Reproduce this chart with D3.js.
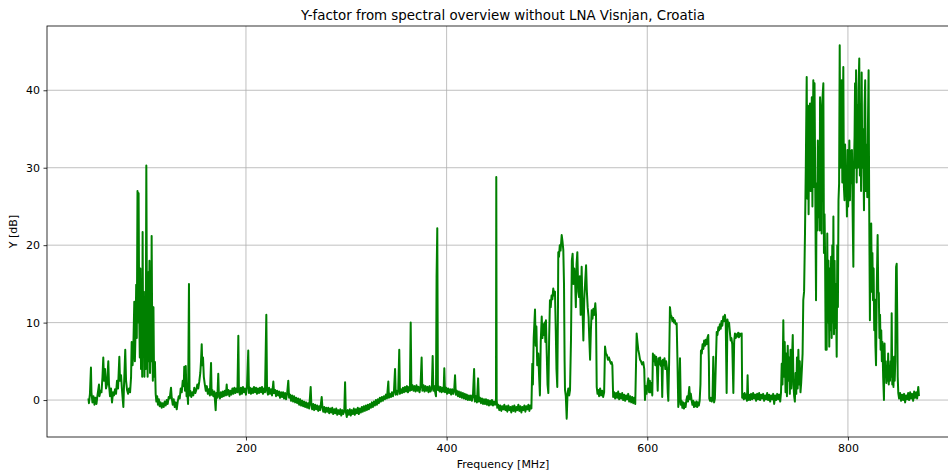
<!DOCTYPE html>
<html>
<head>
<meta charset="utf-8">
<script src="https://cdn.jsdelivr.net/npm/d3@7"></script>
<style>
  html, body { margin: 0; padding: 0; background: #fff; }
  svg { display: block; font-family: "DejaVu Sans", sans-serif; }
</style>
</head>
<body>
<div id="chart"></div>
<script>
// Y-factor readings [MHz, dB], split by band
const band043to170 = [
  [43,0.2],[43.5,-0.4],[44.5,0.8],[45.5,4.2],[46,1.0],[47,-0.3],[48,0.5],[49,-0.6],[50,0.3],[51,-0.5],
  [52,0.6],[53.5,2.0],[54,0.5],[55,1.2],[56,1.0],[57,3.0],[57.8,5.5],[58.5,2.5],[59.5,4.0],[60.5,1.5],
  [61.5,2.0],[62.8,5.0],[63.5,2.0],[64.5,0.5],[65.5,1.5],[66.5,-0.3],[67.5,1.0],[68.5,0.6],[69.5,1.4],[70.5,0.8],
  [71.5,2.5],[72.5,1.5],[73.8,5.6],[74.5,2.5],[75.5,3.2],[76.5,1.2],[77.8,-0.9],[78.5,2.0],[79.7,6.5],[80.5,2.5],
  [81.5,1.3],[82.5,0.8],[83.5,1.5],[84.5,1.0],[85.5,3.0],[86.1,7.5],[87,4.5],[87.8,7.0],[88.7,12.7],[89.3,5.0],
  [90,9.0],[90.6,14.9],[91.2,8.0],[91.9,27.0],[92.5,10.0],[93,26.7],[93.6,11.0],[94.2,5.5],[94.8,17.0],[95.4,4.0],
  [96,12.0],[96.6,3.0],[97,21.7],[97.6,6.0],[98.2,14.0],[98.8,3.0],[99.4,12.0],[100,4.0],[100.7,30.3],[101.4,9.0],
  [102,3.0],[102.6,16.5],[103.2,5.0],[103.8,18.0],[104.4,3.5],[105,12.0],[105.5,5.0],[106,21.2],[106.6,8.0],[107.2,2.5],
  [107.8,12.0],[108.4,3.0],[109.3,4.9],[110,0.8],[110.7,-0.2],[111.5,0.5],[112.3,-0.6],[113.2,0.1],[114,-0.8],[115,-0.3],
  [116,-1.0],[117,-0.4],[118,-0.9],[119,-0.2],[120,-0.7],[121,0.0],[122,-0.5],[123,0.4],[124,0.2],[125.3,1.6],
  [126,0.3],[127,-0.6],[128,0.1],[129,-0.9],[130,-0.3],[131,-1.2],[132,-0.2],[133,0.5],[134,0.2],[135,1.5],
  [136,1.0],[137,2.5],[138,1.8],[138.5,4.3],[139.2,1.2],[140,4.4],[140.8,0.5],[141.5,1.0],[142.3,-0.5],[143.2,15.0],
  [143.8,0.6],[144.5,1.2],[145.5,0.4],[146.5,1.0],[147.5,0.6],[148.5,1.6],[149.5,0.9],[150.5,1.3],[151.5,2.0],[152.5,1.5],
  [153.5,2.4],[154.5,3.5],[155.2,5.0],[155.9,7.2],[156.5,4.5],[157.2,5.5],[158,3.0],[159,2.0],[160,1.2],[161,1.8],
  [162,0.8],[163,1.4],[164,0.6],[165.2,4.8],[165.8,0.7],[166.5,1.3],[167.5,0.5],[168.5,1.1],[169.8,-1.3],[170.5,0.9]
];

const band171to300 = [
  [171.5,0.3],[172.4,3.4],[173,0.8],[174,0.2],[175,1.0],[176,0.4],[177,1.1],[178,0.5],[179,1.2],[180,0.6],
  [180.8,2.0],[181.5,0.7],[182.5,1.3],[183.5,0.5],[184.5,1.2],[185.5,0.7],[186.5,1.5],[187.5,0.8],[188.5,1.6],[189.5,0.9],
  [190.5,1.5],[191.5,1.0],[192.4,8.3],[193,1.2],[194,0.7],[195,1.6],[196,0.8],[197,1.7],[198,1.0],[199,1.5],
  [200,0.7],[201,1.6],[202.3,6.4],[203,0.9],[204,1.6],[205,0.8],[206,1.5],[207,0.9],[208,1.7],[209,1.0],
  [210,1.6],[211,0.8],[212,1.5],[213,0.9],[214,1.6],[215,1.0],[216,1.7],[217,0.8],[218,1.5],[219,1.0],
  [220.3,11.0],[221,1.2],[222,0.7],[223,1.6],[224,0.8],[225,1.4],[226,0.6],[227.3,2.4],[228,0.9],[229,1.3],
  [230,0.5],[231,1.2],[232,0.6],[233,1.1],[234,0.3],[235,1.0],[236,0.4],[237,1.0],[238,0.2],[239,0.9],
  [240,0.1],[241,0.8],[242.2,2.5],[243,0.3],[244,0.7],[245,-0.1],[246,0.6],[247,-0.2],[248,0.5],[249,-0.3],
  [250,0.3],[251,-0.4],[252,0.2],[253,-0.6],[254,0.1],[255,-0.7],[256,-0.1],[257,-0.8],[258,-0.2],[259,-0.9],
  [260,-0.3],[261,-1.0],[262,-0.4],[263,-1.1],[264.5,1.7],[265.2,-0.6],[266,-1.2],[267,-0.5],[268,-1.3],[269,-0.6],
  [270,-1.2],[271,-0.7],[272,-1.4],[273,-0.8],[274,-1.3],[275.5,0.4],[276.2,-0.9],[277,-1.5],[278,-0.9],[279,-1.6],
  [280,-1.0],[281,-1.5],[282,-1.0],[283,-1.7],[284,-1.1],[285,-1.6],[286,-1.0],[287,-1.8],[288,-1.2],[289,-1.7],
  [290,-1.1],[291,-1.9],[292,-1.3],[293,-1.8],[294,-1.2],[295,-2.0],[296,-1.3],[297,-1.8],[298,-1.4],[298.8,2.3],
  [299.5,-1.5],[300.5,-2.2]
];

const band301to450 = [
  [301.5,-1.3],[302.5,-1.9],[303.5,-1.2],[304.5,-2.0],[305.5,-1.3],[306.5,-1.8],[307.5,-1.1],[308.5,-1.9],[309.5,-1.2],[310.5,-1.7],
  [311.5,-1.0],[312.5,-1.8],[313.5,-1.1],[314.5,-1.6],[315.5,-0.9],[316.5,-1.5],[317.5,-0.8],[318.5,-1.4],[319.5,-0.7],[320.5,-1.3],
  [321.5,-0.6],[322.5,-1.2],[323.5,-0.5],[324.5,-1.0],[325.5,-0.3],[326.5,-0.9],[327.5,-0.2],[328.5,-0.7],[329.5,0.0],[330.5,-0.6],
  [331.5,0.1],[332.5,-0.4],[333.5,0.3],[334.5,-0.2],[335.5,0.4],[336.5,-0.1],[337.5,0.5],[338.5,0.1],[339.5,0.7],[340.5,0.2],
  [341.9,2.4],[342.5,0.3],[343.5,0.8],[344.5,0.4],[345.5,1.0],[346.5,0.5],[347.5,1.1],[348.6,4.0],[349.3,0.7],[350.2,1.2],
  [351,0.7],[351.8,1.3],[352.8,6.5],[353.5,0.8],[354.5,1.4],[355.5,0.9],[356.5,1.6],[357.5,1.0],[358.5,1.7],[359.5,1.1],
  [360.5,1.8],[361.5,1.0],[362.5,1.7],[363.4,1.2],[364.2,10.0],[364.9,1.3],[366,1.9],[367,1.2],[368,1.8],[369,1.1],
  [370,1.9],[371,1.2],[372,1.7],[373,1.0],[374,1.8],[375.1,5.5],[375.8,1.2],[377,1.9],[378,1.1],[379,1.8],
  [380,1.2],[381,1.7],[382,1.0],[383,1.8],[384,1.1],[385.3,1.6],[386.1,5.7],[386.8,1.2],[387.8,1.8],[388.6,1.0],
  [389.4,0.5],[390,15.9],[390.7,22.2],[391.3,1.3],[392,1.8],[393,1.1],[394,1.7],[395,1.0],[396,1.6],[397,1.1],
  [397.7,4.1],[398.4,1.0],[399.5,1.6],[400.5,0.8],[401.5,1.5],[402.5,0.9],[403.5,1.4],[404.5,0.7],[405.5,1.4],[406.5,0.8],
  [407.5,1.2],[408.4,3.2],[409.2,0.7],[410.2,1.2],[411.2,0.5],[412.2,1.1],[413.2,0.4],[414.2,1.0],[415.2,0.3],[416.2,0.9],
  [417.2,0.2],[418.2,0.8],[419.2,0.1],[420.2,0.7],[421.2,0.0],[422.2,0.6],[423.2,0.0],[424.2,0.6],[425.2,-0.1],[426.2,0.4],
  [427.4,4.0],[428.2,-0.2],[429.2,0.5],[430.2,-0.3],[431.4,2.8],[432.2,-0.2],[433.2,0.3],[434.2,-0.4],[435.2,0.2],[436.2,-0.5],
  [437.2,0.1],[438.2,-0.5],[439.2,0.1],[440.2,-0.6],[441.2,0.0],[442.2,-0.7],[443.2,-0.1],[444.2,-0.6],[445.2,0.0],[446.2,-0.7],
  [447.2,-0.2],[448.2,-0.6],[449.2,0.0],[449.5,28.8],[449.9,0.0],[450.5,-1.0]
];

const band451to560 = [
  [451.5,-0.6],[452.5,-1.3],[453.5,-0.7],[454.5,-1.4],[455.5,-0.8],[456.5,-1.2],[457.5,-0.6],[458.5,-1.3],[459.5,-0.8],[460.5,-1.5],
  [461.5,-0.7],[462.5,-1.3],[463.5,-0.9],[464.5,-1.6],[465.5,-0.8],[466.5,-1.4],[467.5,-0.7],[468.5,-1.5],[469.5,-0.9],[470.5,-1.3],
  [471.5,-0.6],[472.5,-1.4],[473.5,-0.8],[474.5,-1.6],[475.5,-0.9],[476.5,-1.3],[477.5,-0.7],[478.5,-1.5],[479.5,-0.8],[480.5,-1.2],
  [481.5,-0.6],[482.5,-1.4],[483.5,-0.7],[484.5,-1.1],[485.4,4.7],[486,2.0],[486.8,8.0],[488.1,11.7],[488.8,7.0],[489.5,9.5],
  [490.3,4.5],[491.4,6.0],[492.2,3.0],[493,0.6],[493.8,7.5],[494.8,10.8],[495.5,8.0],[496.3,9.8],[497,8.4],[497.8,10.0],
  [498.4,7.5],[499,10.3],[499.8,6.0],[500.6,2.0],[501.4,0.9],[502.2,8.0],[503,12.9],[503.8,12.0],[504.6,13.5],[505.4,13.0],
  [506.3,14.4],[507.2,13.5],[508,14.0],[508.8,9.0],[509.5,4.0],[510.3,1.7],[511,12.0],[511.3,19.1],[512,18.5],[512.8,20.0],
  [513.6,19.3],[514.7,21.3],[515.5,20.5],[516.3,19.4],[517,15.0],[517.6,5.0],[518,1.3],[518.8,0.5],[519.7,-2.4],[520.5,0.8],
  [521.3,1.5],[522.2,0.6],[523,1.3],[524,8.0],[524.8,18.0],[525.6,18.9],[526.4,15.0],[527.2,17.0],[528,15.7],[528.8,12.0],
  [529.5,17.5],[530.3,19.1],[531.2,14.0],[532,13.3],[532.8,16.0],[533.6,11.0],[534.6,17.2],[535.4,12.0],[536.3,7.7],[537.2,13.0],
  [538,15.0],[539,17.4],[539.8,14.0],[540.6,12.0],[541.5,10.7],[542.2,8.0],[543,5.2],[543.8,9.0],[544.6,11.6],[545.4,10.5],
  [546.3,11.8],[547.2,11.0],[548.2,12.5],[548.9,11.0],[549.6,1.7],[550.4,0.8],[551.2,1.3],[552,0.5],[553,1.5],[554,0.6],
  [555,1.2],[556,0.4],[557,1.0],[557.9,6.9],[558.8,6.0],[559.8,5.8],[560.8,5.2]
];

const band561to700 = [
  [561.8,5.5],[562.9,5.0],[563.8,4.7],[564.5,4.9],[565.2,4.5],[566,0.4],[567,1.0],[568,0.2],[569,0.9],[570,0.3],
  [571,1.1],[572,0.1],[573,0.8],[574,0.2],[575,0.9],[576,0.0],[577,0.7],[578,-0.1],[579,0.6],[580,0.1],
  [581,0.8],[582,-0.2],[583,0.5],[584,-0.3],[585,0.4],[586,-0.4],[587,0.3],[588,-0.5],[589.4,8.6],[590.2,7.5],
  [591,6.5],[591.8,6.0],[592.8,5.2],[593.8,5.0],[594.8,4.6],[596,4.9],[597,4.0],[597.7,0.0],[598.5,1.8],[599.3,0.8],
  [600.2,2.0],[601,2.8],[601.8,1.0],[602.6,2.5],[603.4,1.0],[604.2,2.2],[605,0.6],[605.6,6.0],[606.4,5.0],[607.2,5.8],
  [608,4.5],[608.8,5.6],[609.6,4.3],[610.4,1.2],[611.2,5.4],[612,4.6],[612.8,5.5],[613.6,4.4],[614.3,5.0],[614.9,0.4],
  [615.6,5.2],[616.4,4.5],[617.2,5.4],[618,4.0],[618.8,5.0],[619.6,4.2],[620.4,1.0],[621,-0.1],[621.8,5.0],[622.6,12.0],
  [623.4,11.0],[624.2,10.8],[625,10.2],[625.8,10.6],[626.6,10.0],[627.4,10.3],[628.2,9.8],[629.3,9.9],[630.1,5.0],[630.9,-0.9],
  [631.7,0.2],[632.6,5.4],[633.4,-0.6],[634.2,-0.1],[635,-1.0],[635.8,-0.3],[636.6,-1.1],[637.4,-0.4],[638.2,-0.9],[639,0.0],
  [639.8,0.5],[640.6,-0.2],[641.9,1.7],[642.6,0.1],[643.4,0.8],[644.2,0.0],[645,-0.6],[645.8,-0.1],[646.6,-0.9],[647.4,-0.3],
  [648.2,-0.8],[649,-0.2],[649.8,-0.9],[650.6,-0.3],[651.4,-0.7],[652.2,-0.1],[653,2.0],[653.5,6.4],[654.3,6.0],[655.1,7.2],
  [655.9,6.6],[656.7,7.7],[657.5,7.0],[658.3,7.8],[659.1,7.2],[659.9,8.0],[660.8,8.4],[661.4,5.0],[661.8,0.2],[662.6,-0.1],
  [663.4,0.3],[664.2,-0.2],[665,0.1],[665.8,5.6],[666.6,-0.3],[667.4,0.2],[668.2,4.0],[669.2,8.8],[670,8.4],[670.8,9.4],
  [671.6,9.0],[672.4,9.8],[673.2,9.2],[674,10.2],[674.8,9.6],[675.8,10.8],[676.6,10.2],[677.4,11.0],[678.2,10.0],[679.1,0.9],
  [679.9,10.4],[680.7,9.6],[681.5,10.0],[682.3,8.8],[683.1,7.7],[683.9,8.0],[684.7,7.2],[685.8,0.9],[686.6,7.5],[687.4,8.6],
  [688.2,8.0],[689,8.5],[689.8,8.2],[690.6,8.7],[691.4,8.1],[692.2,8.6],[693,8.3],[694.1,8.6],[694.6,0.3],[695.4,0.8],
  [696.2,0.1],[697,0.9],[697.8,0.2],[698.6,0.7],[699.4,-0.1],[700,3.2],[700.6,0.0]
];

const band701to759 = [
  [701.5,0.7],[702.5,0.0],[703.5,0.8],[704.5,0.1],[705.5,0.9],[706.5,0.2],[707.5,0.7],[708.5,-0.1],[709.5,0.8],[710.5,0.1],
  [711.5,0.9],[712.5,0.0],[713.5,0.7],[714.5,0.2],[715.5,0.8],[716.5,-0.1],[717.5,0.6],[718.5,0.1],[719.5,0.9],[720.5,0.0],
  [721.5,0.7],[722.5,-0.2],[723.5,0.6],[724.5,0.1],[725.5,0.8],[726.5,-0.5],[727.5,0.6],[728.5,0.0],[729.5,0.8],[730.5,0.1],
  [731.5,0.7],[732.5,-0.2],[733.3,1.0],[734,4.7],[734.8,2.0],[735.6,10.3],[736.3,3.0],[737,7.5],[737.8,1.0],[738.5,6.0],
  [739.2,0.5],[740,7.0],[740.7,2.5],[741.4,5.5],[742.1,0.8],[742.8,6.5],[743.5,1.5],[744.2,5.0],[745,8.4],[745.7,2.0],
  [746.4,0.5],[747.1,-0.2],[747.8,3.5],[748.5,0.8],[749.2,5.5],[749.9,1.5],[750.6,6.5],[751.3,2.0],[752,5.0],[752.7,1.0],
  [753.4,2.2],[754.1,4.0],[754.8,6.0],[755.5,12.9],[756.3,14.0],[757.2,21.5],[758,30.0],[758.9,41.7],[759.6,26.0]
];

const band760to871 = [
  [760.2,38.0],[760.8,24.0],[761.4,35.0],[762.2,38.3],[762.8,27.0],[763.4,33.0],[764,39.1],[764.6,25.0],[765.2,36.0],[765.5,41.3],
  [766.1,27.5],[766.7,40.9],[767.3,30.0],[768.2,12.9],[768.8,28.0],[769.4,21.9],[770,33.5],[770.6,23.6],[771.2,30.0],[771.8,21.9],
  [772.2,39.1],[772.8,25.0],[773.4,30.0],[773.8,21.5],[774.2,38.0],[775.5,40.9],[776.1,19.0],[776.7,24.0],[777.2,19.0],[777.8,6.5],
  [778.4,18.0],[778.8,6.5],[779.4,21.5],[780,10.0],[780.6,18.0],[781.4,6.9],[782,17.0],[782.6,9.0],[783.2,18.5],[783.8,8.0],
  [784.4,20.0],[785,10.0],[785.5,23.7],[786.1,8.5],[786.7,18.0],[787.3,9.3],[787.9,15.0],[788.8,5.6],[789.4,20.0],[790,12.0],
  [790.6,25.8],[791.2,28.0],[791.8,45.8],[792.4,30.0],[793,38.0],[793.8,41.3],[794.4,28.1],[795.4,43.0],[796,27.5],[796.6,25.8],
  [797.2,33.0],[797.8,26.9],[798.4,28.0],[799,23.7],[799.6,32.3],[800.2,25.0],[800.8,28.4],[801.4,33.5],[802,25.8],[802.6,32.2],
  [803.2,28.0],[804,32.3],[804.6,25.0],[805.4,17.2],[806,30.0],[806.6,34.0],[807.1,40.9],[807.7,30.0],[808.1,42.6],[808.7,28.1],
  [809.3,38.0],[809.9,30.0],[810.5,40.0],[811.3,44.1],[811.9,29.0],[812.5,36.6],[813.1,27.0],[813.7,42.3],[814.3,30.0],[815,35.0],
  [816,24.5],[816.6,38.0],[817.2,41.3],[817.8,27.0],[818.4,33.0],[819.3,26.2],[819.9,35.0],[820.6,42.6],[821.2,25.0],[821.9,10.3],
  [822.5,20.0],[823.2,22.8],[823.8,14.0],[824.4,19.0],[825,12.9],[825.6,17.0],[826.2,9.0],[826.8,13.0],[827.4,7.0],[828,4.5],
  [828.8,15.0],[829.6,21.3],[830.2,14.0],[830.8,13.8],[831.4,8.0],[832,11.0],[832.6,6.5],[833.2,9.0],[833.8,5.0],[834.4,7.5],
  [835.1,3.0],[835.9,0.0],[836.5,7.3],[837.1,3.0],[837.7,5.0],[838.3,2.2],[838.9,4.0],[839.5,2.5],[840.1,6.0],[840.7,2.0],
  [841.3,4.3],[841.9,2.5],[842.5,5.0],[843.1,3.0],[843.6,11.2],[844.2,2.0],[844.8,4.0],[845.4,1.7],[846,5.6],[846.6,2.5],
  [847.2,5.0],[847.6,12.0],[848,17.2],[848.6,17.6],[849.2,10.0],[849.6,3.0],[850.2,0.9],[851,0.2],[852,0.9],[853,-0.1],
  [854,0.7],[855,0.0],[856,0.8],[857,-0.3],[858,0.6],[859,0.1],[860,0.9],[861,0.0],[862,1.0],[863,0.2],
  [864,0.8],[865,-0.1],[866,1.1],[867,0.3],[868,1.0],[869,0.2],[870.1,1.7],[870.8,0.5]
];

const xTicks = [200, 400, 600, 800];
const yTicks = [0, 10, 20, 30, 40];

const spectrum = [].concat(band043to170, band171to300, band301to450, band451to560,
                           band561to700, band701to759, band760to871);

const width = 948
const height = 475
const plotLeft = 47, plotRight = 959, plotTop = 26, plotBottom = 437

const xScale = d3.scaleLinear()
                 .domain([1.7, 910.7])
                 .range([plotLeft, plotRight])

const yScale = d3.scaleLinear()
                 .domain([-4.77, 48.3])
                 .range([plotBottom, plotTop])

const svg = d3.select('#chart')
              .append('svg')
              .attr('width', width)
              .attr('height', height)

svg.append('defs').append('clipPath')
   .attr('id', 'plot-clip')
   .append('rect')
   .attr('x', plotLeft).attr('y', plotTop)
   .attr('width', plotRight - plotLeft).attr('height', plotBottom - plotTop)

//Grid
const grid = svg.append('g').attr('class', 'grid')
grid.selectAll('line.gx')
    .data(xTicks)
    .enter()
    .append('line')
    .attr('x1', d => xScale(d)).attr('x2', d => xScale(d))
    .attr('y1', plotTop).attr('y2', plotBottom)
    .attr('stroke', '#b0b0b0').attr('stroke-width', 0.8)
grid.selectAll('line.gy')
    .data(yTicks)
    .enter()
    .append('line')
    .attr('x1', plotLeft).attr('x2', plotRight)
    .attr('y1', d => yScale(d)).attr('y2', d => yScale(d))
    .attr('stroke', '#b0b0b0').attr('stroke-width', 0.8)

//Spectrum line
const line = d3.line()
               .x(d => xScale(d[0]))
               .y(d => yScale(d[1]))

svg.append('path')
   .datum(spectrum)
   .attr('clip-path', 'url(#plot-clip)')
   .attr('fill', 'none')
   .attr('stroke', '#008000')
   .attr('stroke-width', 2)
   .attr('stroke-linejoin', 'round')
   .attr('d', line)

//Axes
const xAxis = d3.axisBottom(xScale).tickValues(xTicks).tickSize(3.5).tickPadding(3.5)
const yAxis = d3.axisLeft(yScale).tickValues(yTicks).tickSize(3.5).tickPadding(3.5)

svg.append('g')
   .attr('transform', `translate(0, ${plotBottom})`)
   .call(xAxis)
svg.append('g')
   .attr('transform', `translate(${plotLeft}, 0)`)
   .call(yAxis)

svg.selectAll('.domain').remove()
svg.selectAll('.tick line').attr('stroke', '#000').attr('stroke-width', 0.8)
svg.selectAll('.tick text')
   .attr('fill', '#000')
   .style('font-size', '11px')
   .style('font-family', '"DejaVu Sans", sans-serif')

//Frame
svg.append('rect')
   .attr('x', plotLeft).attr('y', plotTop)
   .attr('width', plotRight - plotLeft).attr('height', plotBottom - plotTop)
   .attr('fill', 'none')
   .attr('stroke', '#000')
   .attr('stroke-width', 0.8)

//Texts
svg.append('text')
   .attr('x', (plotLeft + plotRight) / 2)
   .attr('y', 20)
   .attr('text-anchor', 'middle')
   .style('font-size', '13.4px')
   .text('Y-factor from spectral overview without LNA Visnjan, Croatia')

svg.append('text')
   .attr('x', (plotLeft + plotRight) / 2)
   .attr('y', 468)
   .attr('text-anchor', 'middle')
   .style('font-size', '11px')
   .text('Frequency [MHz]')

svg.append('text')
   .attr('transform', `translate(17, ${(plotTop + plotBottom) / 2}) rotate(-90)`)
   .attr('text-anchor', 'middle')
   .style('font-size', '11px')
   .text('Y [dB]')
</script>
</body>
</html>
